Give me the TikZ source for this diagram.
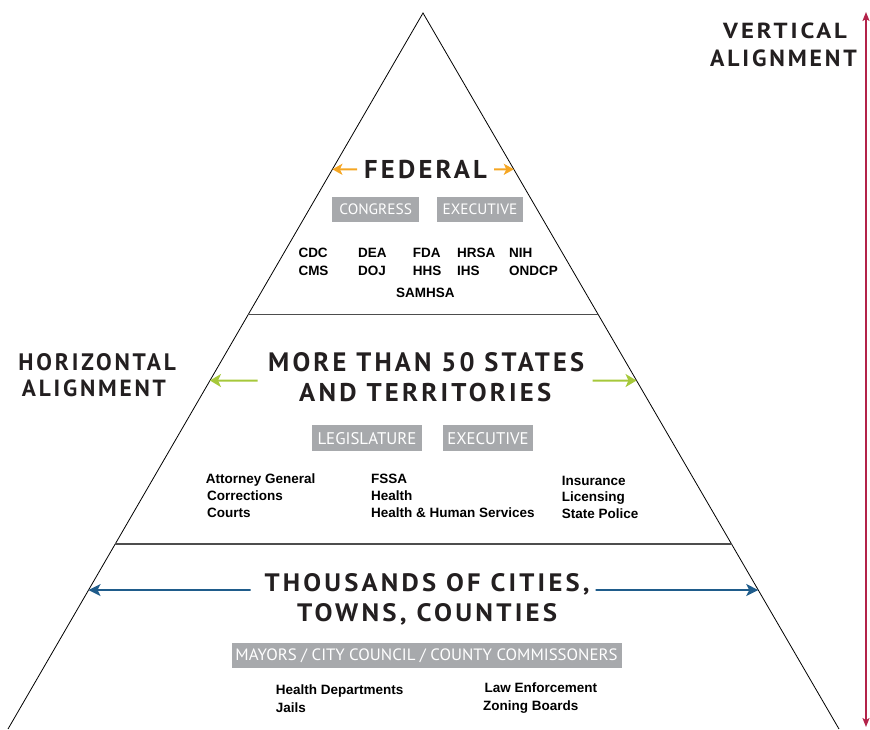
\documentclass[tikz,border=0pt]{standalone}
\usepackage{fontspec}
\setmainfont{Liberation Sans}
\newfontfamily\titlefont[LetterSpace=12]{PT Sans}
\newfontfamily\boxfont{PT Sans}
\usetikzlibrary{calc,arrows.meta}
\definecolor{ink}{HTML}{231F20}
\definecolor{fedyellow}{HTML}{F5A623}
\definecolor{stgreen}{HTML}{A6C83A}
\definecolor{locblue}{HTML}{1F5C8B}
\definecolor{vred}{HTML}{B3234A}
\definecolor{boxgray}{HTML}{A7A9AC}
\definecolor{divgray}{HTML}{4D4D4D}
\newcommand{\fitttl}[3]{\resizebox{#1pt}{#2pt}{\titlefont\bfseries #3}}
\newcommand{\fitbx}[3]{\resizebox{#1pt}{#2pt}{\boxfont #3}}
\tikzset{
  ttl/.style={anchor=base west,inner sep=0pt,text=ink},
  lbl/.style={anchor=base west,inner sep=0pt,text=black,font=\fontsize{13.5}{16}\selectfont\bfseries},
  graybox/.style={fill=boxgray,text=white,inner sep=0pt,anchor=center},
  edge/.style={line width=0.8pt,black},
  divider/.style={line width=1.5pt,divgray},
  yarr/.style={line width=2pt,fedyellow,-{Stealth[length=10pt,width=11pt,inset=2.5pt]}},
  garr/.style={line width=2pt,stgreen,-{Stealth[length=11pt,width=13pt,inset=3pt]}},
  barr/.style={line width=1.6pt,locblue,-{Stealth[length=12pt,width=12pt,inset=3pt]}},
  varr/.style={line width=1.5pt,vred,{Stealth[length=9pt,width=7pt,inset=2pt]}-{Stealth[length=9pt,width=7pt,inset=2pt]}}
}
\begin{document}
\begin{tikzpicture}[x=1pt,y=-1pt]
\useasboundingbox (0,0) rectangle (870,729);
% pyramid
\coordinate (apex) at (423,13);
\coordinate (bl) at (8,729);
\coordinate (br) at (839,729);
\draw[edge] (bl) -- (apex) -- (br);
\coordinate (d1l) at ($(apex)!0.4214!(bl)$);
\coordinate (d1r) at ($(apex)!0.4214!(br)$);
\coordinate (d2l) at ($(apex)!0.7416!(bl)$);
\coordinate (d2r) at ($(apex)!0.7416!(br)$);
\draw[divider] (d1l) -- (d1r);
\draw[divider] (d2l) -- (d2r);

% vertical alignment arrow
\coordinate (vtop) at (866,12);
\coordinate (vbot) at (866,727);
\draw[varr] (vbot) -- (vtop);
\node[ttl] (vert1) at (723,38.3) {\fitttl{123.7}{15.6}{VERTICAL}};
\node[ttl] (vert2) at (710,66.7) {\fitttl{146.7}{16.7}{ALIGNMENT}};

% horizontal alignment label
\node[ttl] (hor1) at (18.3,370) {\fitttl{157.4}{17}{HORIZONTAL}};
\node[ttl] (hor2) at (21.7,396.7) {\fitttl{144}{16.7}{ALIGNMENT}};

% ---------- Federal ----------
\node[ttl] (fed) at (364,178.3) {\fitttl{122.7}{18.3}{FEDERAL}};
\coordinate (yl) at ($(apex)!0.2183!(bl)$);
\coordinate (yr) at ($(apex)!0.2183!(br)$);
\coordinate (ylt) at (357,169.3);
\coordinate (yrt) at (494,169.3);
\draw[yarr] (ylt) -- (yl);
\draw[yarr] (yrt) -- (yr);
\node[graybox,minimum width=86.7pt,minimum height=24.4pt] (congress) at (375.7,209.5) {\fitbx{72.7}{10.7}{CONGRESS}};
\node[graybox,minimum width=86.6pt,minimum height=24.4pt] (fedexec) at (480,209.5) {\fitbx{74.7}{10.7}{EXECUTIVE}};
\node[lbl] (cdc) at (298.3,257.3) {CDC};
\node[lbl] (cms) at (298.3,275) {CMS};
\node[lbl] (dea) at (358,257.3) {DEA};
\node[lbl] (doj) at (358,275) {DOJ};
\node[lbl] (fda) at (412.7,257.3) {FDA};
\node[lbl] (hhs) at (412.7,275) {HHS};
\node[lbl] (hrsa) at (457,257.3) {HRSA};
\node[lbl] (ihs) at (457,275) {IHS};
\node[lbl] (nih) at (509,257.3) {NIH};
\node[lbl] (ondcp) at (509,275) {ONDCP};
\node[lbl] (samhsa) at (396,297) {SAMHSA};

% ---------- States ----------
\node[ttl] (st1) at (268,371.7) {\fitttl{316}{19}{MORE THAN 50 STATES}};
\node[ttl] (st2) at (299,401) {\fitttl{252}{18.3}{AND TERRITORIES}};
\coordinate (gl) at ($(apex)!0.5133!(bl)$);
\coordinate (gr) at ($(apex)!0.5133!(br)$);
\coordinate (glt) at (257.5,380.5);
\coordinate (grt) at (592.5,380.5);
\draw[garr] (glt) -- (gl);
\draw[garr] (grt) -- (gr);
\node[graybox,minimum width=110.6pt,minimum height=25.7pt] (legis) at (367,438.2) {\fitbx{99}{12}{LEGISLATURE}};
\node[graybox,minimum width=89.4pt,minimum height=25.7pt] (stexec) at (488,438.2) {\fitbx{81.3}{12}{EXECUTIVE}};
\node[lbl] (ag) at (205.7,483.5) {Attorney General};
\node[lbl] (corr) at (207,500.5) {Corrections};
\node[lbl] (courts) at (207,517) {Courts};
\node[lbl] (fssa) at (371,483.5) {FSSA};
\node[lbl] (health) at (371,500.5) {Health};
\node[lbl] (hhsrv) at (371,517) {Health \& Human Services};
\node[lbl] (ins) at (561.7,485) {Insurance};
\node[lbl] (lic) at (561.7,501.5) {Licensing};
\node[lbl] (sp) at (561.7,518) {State Police};

% ---------- Local ----------
\node[ttl] (loc1) at (264.4,591) {\fitttl{325}{18}{THOUSANDS OF CITIES,}};
\node[ttl] (loc2) at (297,621.5) {\fitttl{260}{18}{TOWNS, COUNTIES}};
\coordinate (bl2) at ($(apex)!0.8059!(bl)$);
\coordinate (br2) at ($(apex)!0.8059!(br)$);
\coordinate (blt) at (250.5,590);
\coordinate (brt) at (595.6,590);
\draw[barr] (blt) -- (bl2);
\draw[barr] (brt) -- (br2);
\node[graybox,minimum width=390pt,minimum height=25pt] (mayors) at (426.5,655.8) {\fitbx{382}{11.7}{MAYORS / CITY COUNCIL / COUNTY COMMISSONERS}};
\node[lbl] (hd) at (275.6,694) {Health Departments};
\node[lbl] (jails) at (275.6,712.5) {Jails};
\node[lbl] (le) at (484.5,692.5) {Law Enforcement};
\node[lbl] (zb) at (483,710) {Zoning Boards};
\end{tikzpicture}
\end{document}
